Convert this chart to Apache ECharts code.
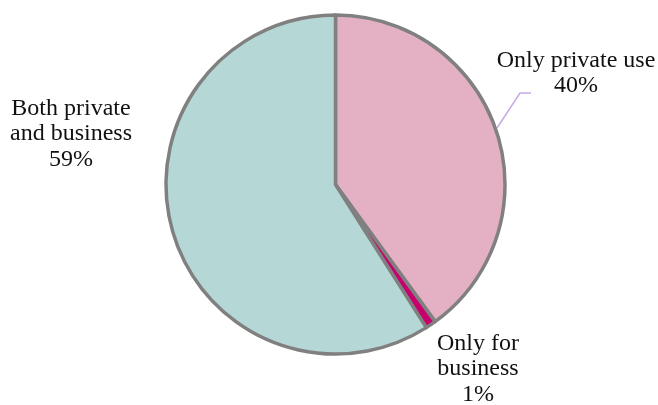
<!DOCTYPE html>
<html>
<head>
<meta charset="utf-8">
<script src="https://cdn.jsdelivr.net/npm/echarts@6/dist/echarts.min.js"></script>
<style>
  html, body { margin: 0; padding: 0; background: #ffffff; }
  #chart { width: 658px; height: 405px; }
</style>
</head>
<body>
<div id="chart"></div>
<script>
// Usage split, clockwise from 12 o'clock
const categories = ['Only private use', 'Only for\nbusiness', 'Both private\nand business'];
const shares = [40, 1, 59];
const sliceColors = ['#E3B1C3', '#C8006E', '#B5D8D6'];

// Label anchor points (text block centres) and the single leader line
const labelAnchors = [[576, 73], [478, 369], [71, 134]];
const leaderPoints = [[497, 128], [520, 93], [531, 93]];

const chart = echarts.init(document.getElementById('chart'), null, { renderer: 'canvas' });

const data = categories.map((name, i) => ({
  name: name,
  value: shares[i],
  itemStyle: { color: sliceColors[i] },
  labelLine: { show: i === 0 }
}));

chart.setOption({
  animation: false,
  backgroundColor: '#ffffff',
  series: [{
    type: 'pie',
    center: [335.5, 184.5],
    radius: 169.5,
    startAngle: 90,
    clockwise: true,
    avoidLabelOverlap: false,
    itemStyle: { borderColor: '#808080', borderWidth: 3.5 },
    label: {
      show: true,
      position: 'outside',
      formatter: '{b}\n{d}%',
      fontFamily: '"Liberation Serif", "Times New Roman", serif',
      fontSize: 24,
      lineHeight: 25.5,
      color: '#111111',
      align: 'center'
    },
    labelLine: {
      show: false,
      lineStyle: { color: '#C9A9E6', width: 1.5 }
    },
    labelLayout: function (params) {
      const a = labelAnchors[params.dataIndex];
      const out = { x: a[0], y: a[1], align: 'center', verticalAlign: 'middle' };
      if (params.dataIndex === 0) out.labelLinePoints = leaderPoints;
      return out;
    },
    data: data
  }]
});
</script>
</body>
</html>
